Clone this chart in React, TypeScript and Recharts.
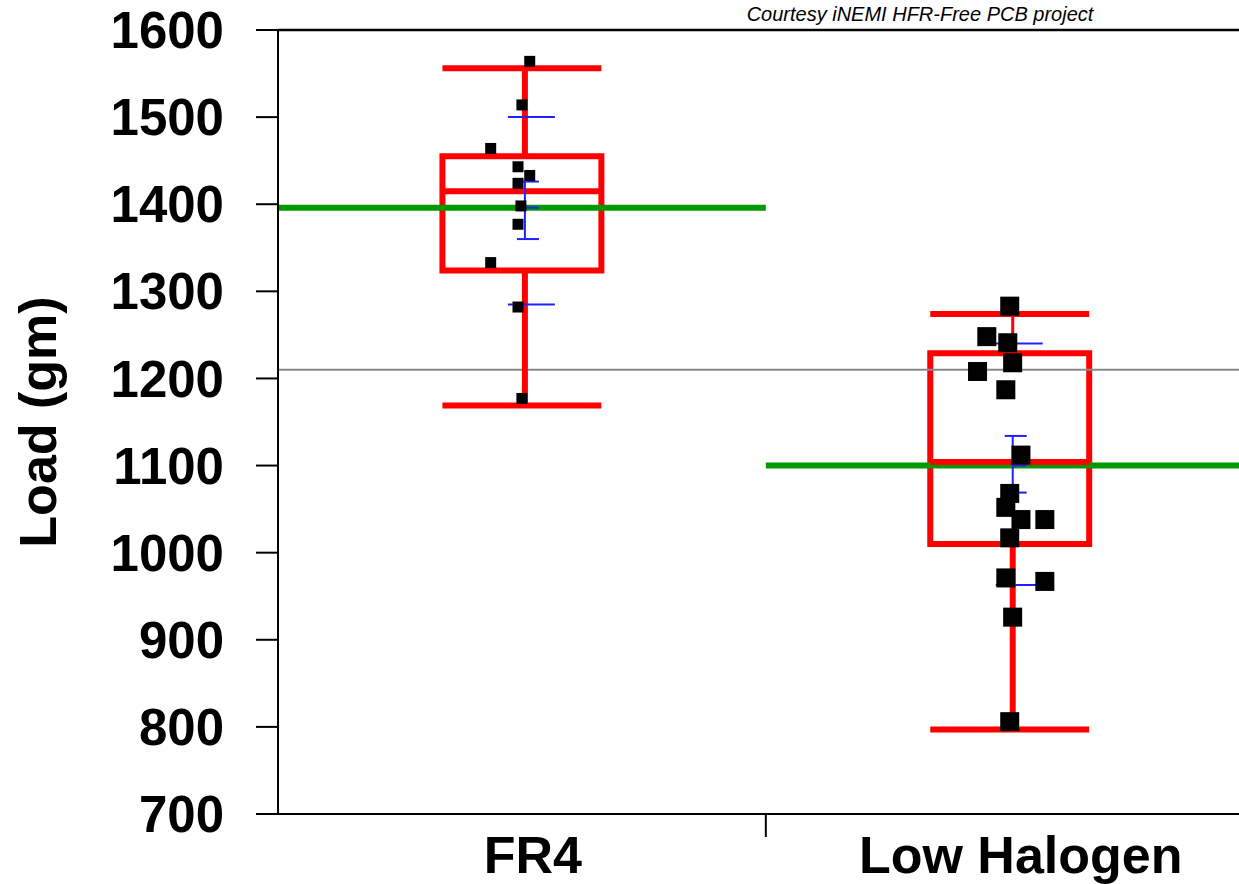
import { ComposedChart, XAxis, YAxis, ReferenceLine, ReferenceArea, Scatter } from 'recharts';

const FONT = '"Liberation Sans", Arial, Helvetica, sans-serif';
const RED = '#ff0000';
const GREEN = '#009a00';
const BLUE = '#2020ff';
const PX = 1 / 488; // one pixel in x-axis units at this chart size

const categories = ['FR4', 'Low Halogen'];
const yTicks = [700, 800, 900, 1000, 1100, 1200, 1300, 1400, 1500, 1600];

// individual measurements (load in gm) and their jittered x positions
const fr4Loads = [1564, 1514, 1464, 1443, 1433, 1424, 1398, 1377, 1333, 1282, 1177];
const fr4Jitter = [0.516, 0.5, 0.436, 0.492, 0.516, 0.492, 0.498, 0.492, 0.436, 0.492, 0.5];

const lhLoads = [1283, 1248, 1241, 1218, 1208, 1187, 1112, 1068, 1052, 1038, 1038, 1017, 971, 967, 926, 806];
const lhJitter = [1.5, 1.453, 1.496, 1.506, 1.434, 1.492, 1.523, 1.5, 1.492, 1.523, 1.572, 1.5, 1.492, 1.572, 1.506, 1.5];

// box plot stats per category
const whiskerHigh = [1556, 1274];
const boxHigh = [1455, 1229];
const medians = [1415, 1104];
const boxLow = [1324, 1010];
const whiskerLow = [1169, 797];
const groupMeans = [1396, 1100];
const ciHigh = [1426, 1134];
const ciLow = [1360, 1069];
const sdHigh = [1500, 1240];
const sdLow = [1285, 963];
const grandMean = 1210;

const fr4Points = fr4Loads.map((load, k) => ({ pos: fr4Jitter[k], load }));
const lhPoints = lhLoads.map((load, k) => ({ pos: lhJitter[k], load }));

const square = (size: number) => (p: any) => (
    <rect x={p.cx - size / 2} y={p.cy - size / 2} width={size} height={size} fill="#000" />
);

function CategoryTick(props: any) {
    const { x, y, payload } = props;
    if (payload.value === 1) {
        return <line x1={x} x2={x} y1={y} y2={y + 23} stroke="#000" strokeWidth={2} />;
    }
    return (
        <text x={x + 11} y={y + 59} textAnchor="middle" fontSize={52} fontWeight="bold" fontFamily={FONT} fill="#000">
            {categories[Math.floor(payload.value)]}
        </text>
    );
}

const yLabel = () => (
    <text x={56} y={422} transform="rotate(-90 56 422)" textAnchor="middle" fontSize={52} fontWeight="bold" fontFamily={FONT} fill="#000">
        Load (gm)
    </text>
);

const seg = (x1: number, y1: number, x2: number, y2: number) => [{ x: x1, y: y1 }, { x: x2, y: y2 }];

export default function App() {
    return (
        <div style={{ position: 'absolute', left: 0, top: 0, width: 1239, height: 884, overflow: 'hidden', background: '#fff' }}>
            <ComposedChart width={1239} height={884} margin={{ top: 30, right: 0, bottom: 0, left: 0 }}>
                <XAxis
                    type="number"
                    dataKey="pos"
                    domain={[0, 1.97]}
                    allowDataOverflow
                    ticks={[0.5, 1, 1.5]}
                    interval={0}
                    height={70}
                    tickLine={false}
                    tickSize={0}
                    tickMargin={0}
                    axisLine={{ stroke: '#000', strokeWidth: 2 }}
                    tick={(p: any) => <CategoryTick {...p} />}
                />
                <YAxis
                    type="number"
                    dataKey="load"
                    domain={[700, 1600]}
                    ticks={yTicks}
                    interval={0}
                    width={278}
                    tickSize={22}
                    tickMargin={32}
                    tickLine={{ stroke: '#000', strokeWidth: 2 }}
                    axisLine={{ stroke: '#000', strokeWidth: 2 }}
                    tick={{ fill: '#000', fontSize: 51, fontWeight: 'bold', fontFamily: FONT }}
                    label={yLabel}
                />
                <ReferenceLine y={1600} stroke="#000" strokeWidth={2.5} />
                <ReferenceLine y={grandMean} stroke="#888" strokeWidth={2} />

                {categories.map((cat, i) => {
                    const c = i + 0.5;
                    const half = 79.5 * PX;
                    const wx = c + 3 * PX;
                    return (
                        <g key={cat}>
                            <ReferenceLine segment={seg(i, groupMeans[i], i + 1, groupMeans[i])} stroke={GREEN} strokeWidth={6} ifOverflow="hidden" />
                            <ReferenceArea x1={c - half} x2={c + half} y1={boxLow[i]} y2={boxHigh[i]} fill="none" fillOpacity={0} stroke={RED} strokeWidth={6} />
                            <ReferenceLine segment={seg(c - half, medians[i], c + half, medians[i])} stroke={RED} strokeWidth={6} />
                            <ReferenceLine segment={seg(wx, boxHigh[i], wx, whiskerHigh[i])} stroke={RED} strokeWidth={i === 1 ? 3 : 6} />
                            <ReferenceLine segment={seg(wx, boxLow[i], wx, whiskerLow[i])} stroke={RED} strokeWidth={6} />
                            <ReferenceLine segment={seg(c - half, whiskerHigh[i], c + half, whiskerHigh[i])} stroke={RED} strokeWidth={6} />
                            <ReferenceLine segment={seg(c - half, whiskerLow[i], c + half, whiskerLow[i])} stroke={RED} strokeWidth={6} />
                            <ReferenceLine segment={seg(wx, ciLow[i], wx, ciHigh[i])} stroke={BLUE} strokeWidth={2} />
                            <ReferenceLine segment={seg(wx - 8 * PX, ciHigh[i], wx + 14 * PX, ciHigh[i])} stroke={BLUE} strokeWidth={2} />
                            <ReferenceLine segment={seg(wx - 8 * PX, ciLow[i], wx + 14 * PX, ciLow[i])} stroke={BLUE} strokeWidth={2} />
                            <ReferenceLine segment={seg(wx, groupMeans[i], wx + 14 * PX, groupMeans[i])} stroke={BLUE} strokeWidth={2} />
                            <ReferenceLine segment={seg(wx - 17 * PX, sdHigh[i], wx + 30 * PX, sdHigh[i])} stroke={BLUE} strokeWidth={2} />
                            <ReferenceLine segment={seg(wx - 17 * PX, sdLow[i], wx + 30 * PX, sdLow[i])} stroke={BLUE} strokeWidth={2} />
                        </g>
                    );
                })}

                <Scatter data={fr4Points} dataKey="load" isAnimationActive={false} shape={square(11)} />
                <Scatter data={lhPoints} dataKey="load" isAnimationActive={false} shape={square(19)} />
            </ComposedChart>
            <div
                style={{
                    position: 'absolute',
                    left: 920,
                    top: 3,
                    transform: 'translateX(-50%)',
                    fontSize: 20,
                    lineHeight: '22px',
                    fontStyle: 'italic',
                    fontFamily: FONT,
                    whiteSpace: 'nowrap',
                    color: '#000',
                }}
            >
                Courtesy iNEMI HFR-Free PCB project
            </div>
        </div>
    );
}
